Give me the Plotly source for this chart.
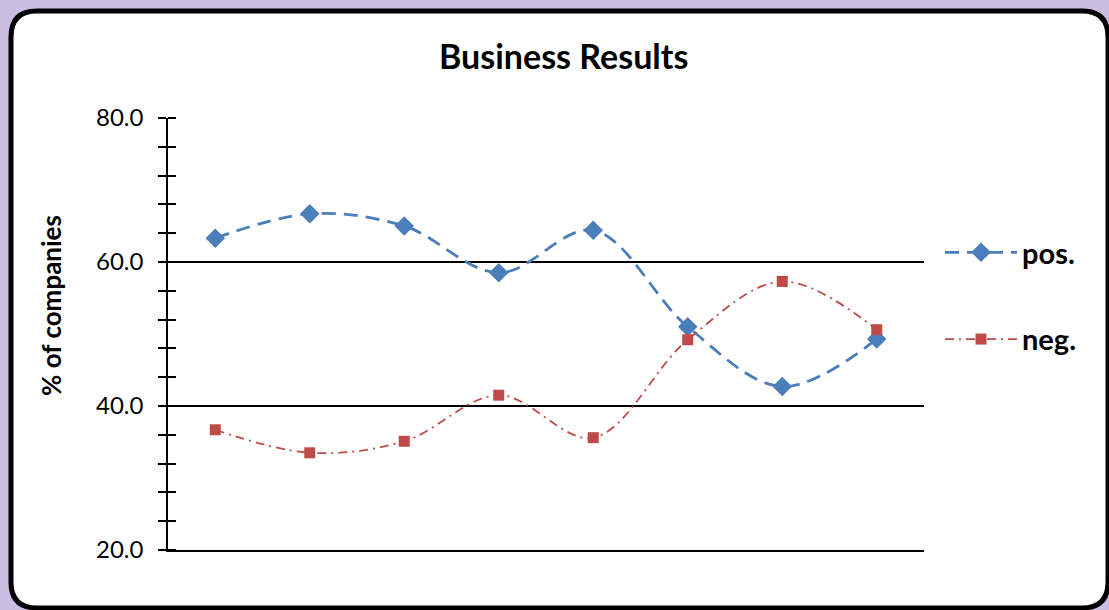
import plotly.graph_objects as go

# ---- data ----
categories = ["1", "2", "3", "4", "5", "6", "7", "8"]
pos_values = [63.3, 66.7, 65.0, 58.5, 64.4, 51.0, 42.7, 49.3]
neg_values = [36.7, 33.5, 35.1, 41.5, 35.6, 49.2, 57.3, 50.6]
series_names = ["pos.", "neg."]
y_tick_vals = [20, 40, 60, 80]
y_tick_text = ["20.0", "40.0", "60.0", "80.0"]

W, H = 1109, 610
ML, MR, MT, MB = 168, 185, 118, 60
PW, PH = W - ML - MR, H - MT - MB
FONT = "Lato"


def px(x):
    return (x - ML) / PW


def py(y):
    return (H - MB - y) / PH


def rounded_rect(x0, y0, x1, y1, r):
    p = lambda x, y: f"{px(x):.5f},{py(y):.5f}"
    s = f"M {p(x0 + r, y0)} L {p(x1 - r, y0)} Q {p(x1, y0)} {p(x1, y0 + r)} "
    s += f"L {p(x1, y1 - r)} Q {p(x1, y1)} {p(x1 - r, y1)} "
    s += f"L {p(x0 + r, y1)} Q {p(x0, y1)} {p(x0, y1 - r)} "
    s += f"L {p(x0, y0 + r)} Q {p(x0, y0)} {p(x0 + r, y0)} Z"
    return s


fig = go.Figure()
fig.add_trace(go.Scatter(
    x=categories, y=pos_values, name=series_names[0], mode="lines+markers",
    line=dict(color="#4a7ebb", width=2.8, dash="14px,8px", shape="spline", smoothing=1.0),
    marker=dict(symbol="diamond", size=15, color="#4a7ebb"),
    legendgroup="a",
))
fig.add_trace(go.Scatter(
    x=categories, y=neg_values, name=series_names[1], mode="lines+markers",
    line=dict(color="#be4b48", width=1.8, dash="9px,5px,2px,5px", shape="spline", smoothing=1.0),
    marker=dict(symbol="square", size=11, color="#be4b48"),
    legendgroup="b",
))
# invisible copy on a second axis placed just inside the plot, so that the
# tick marks cross the axis line as in the reference
fig.add_trace(go.Scatter(
    x=categories, y=pos_values, yaxis="y2", mode="lines", opacity=0,
    line=dict(width=0), showlegend=False, hoverinfo="skip",
))

fig.update_layout(
    width=W, height=H,
    margin=dict(l=ML, r=MR, t=MT, b=MB, pad=0),
    paper_bgcolor="#cbbde1",
    plot_bgcolor="rgba(0,0,0,0)",
    font=dict(family=FONT, color="black"),
    showlegend=True,
    legend=dict(
        x=px(940), y=py(227), xanchor="left", yanchor="top",
        font=dict(size=29, family=FONT, color="black", weight="bold"),
        bgcolor="rgba(0,0,0,0)", tracegroupgap=46, traceorder="grouped",
        itemwidth=72,
    ),
    xaxis=dict(
        type="category", range=[-0.5, 7.5], showticklabels=False, ticks="",
        showgrid=False, zeroline=False, showline=True, linecolor="black", linewidth=1.5,
    ),
    yaxis=dict(
        range=[20, 80], tickvals=y_tick_vals, ticktext=y_tick_text,
        tickfont=dict(size=24, family=FONT, color="black"),
        ticks="outside", ticklen=8, tickwidth=1.5, tickcolor="black",
        minor=dict(dtick=4, tick0=20, ticks="outside", ticklen=8, tickwidth=1.5, tickcolor="black", showgrid=False),
        showgrid=True, gridcolor="black", gridwidth=1.5,
        showline=True, linecolor="black", linewidth=1.5, zeroline=False,
        ticklabelstandoff=10,
    ),
    yaxis2=dict(
        range=[20, 80], overlaying="y", anchor="free", position=px(176), side="left",
        tickvals=y_tick_vals, showticklabels=False,
        ticks="outside", ticklen=8, tickwidth=1.5, tickcolor="black",
        minor=dict(dtick=4, tick0=20, ticks="outside", ticklen=8, tickwidth=1.5, tickcolor="black", showgrid=False),
        showgrid=False, showline=False, zeroline=False,
    ),
    shapes=[dict(
        type="path", xref="paper", yref="paper", layer="below",
        path=rounded_rect(11, 11, 1108, 608, 26),
        fillcolor="white", line=dict(color="black", width=5),
    )],
    annotations=[
        dict(text="<b>Business Results</b>", xref="paper", yref="paper",
             x=px(563), y=py(56), xanchor="center", yanchor="middle", showarrow=False,
             font=dict(size=34, family=FONT, color="black")),
        dict(text="<b>% of companies</b>", xref="paper", yref="paper",
             x=px(51), y=py(306), xanchor="center", yanchor="middle", showarrow=False,
             textangle=-90, font=dict(size=26, family=FONT, color="black")),
    ],
)

fig.write_html("out.html")
